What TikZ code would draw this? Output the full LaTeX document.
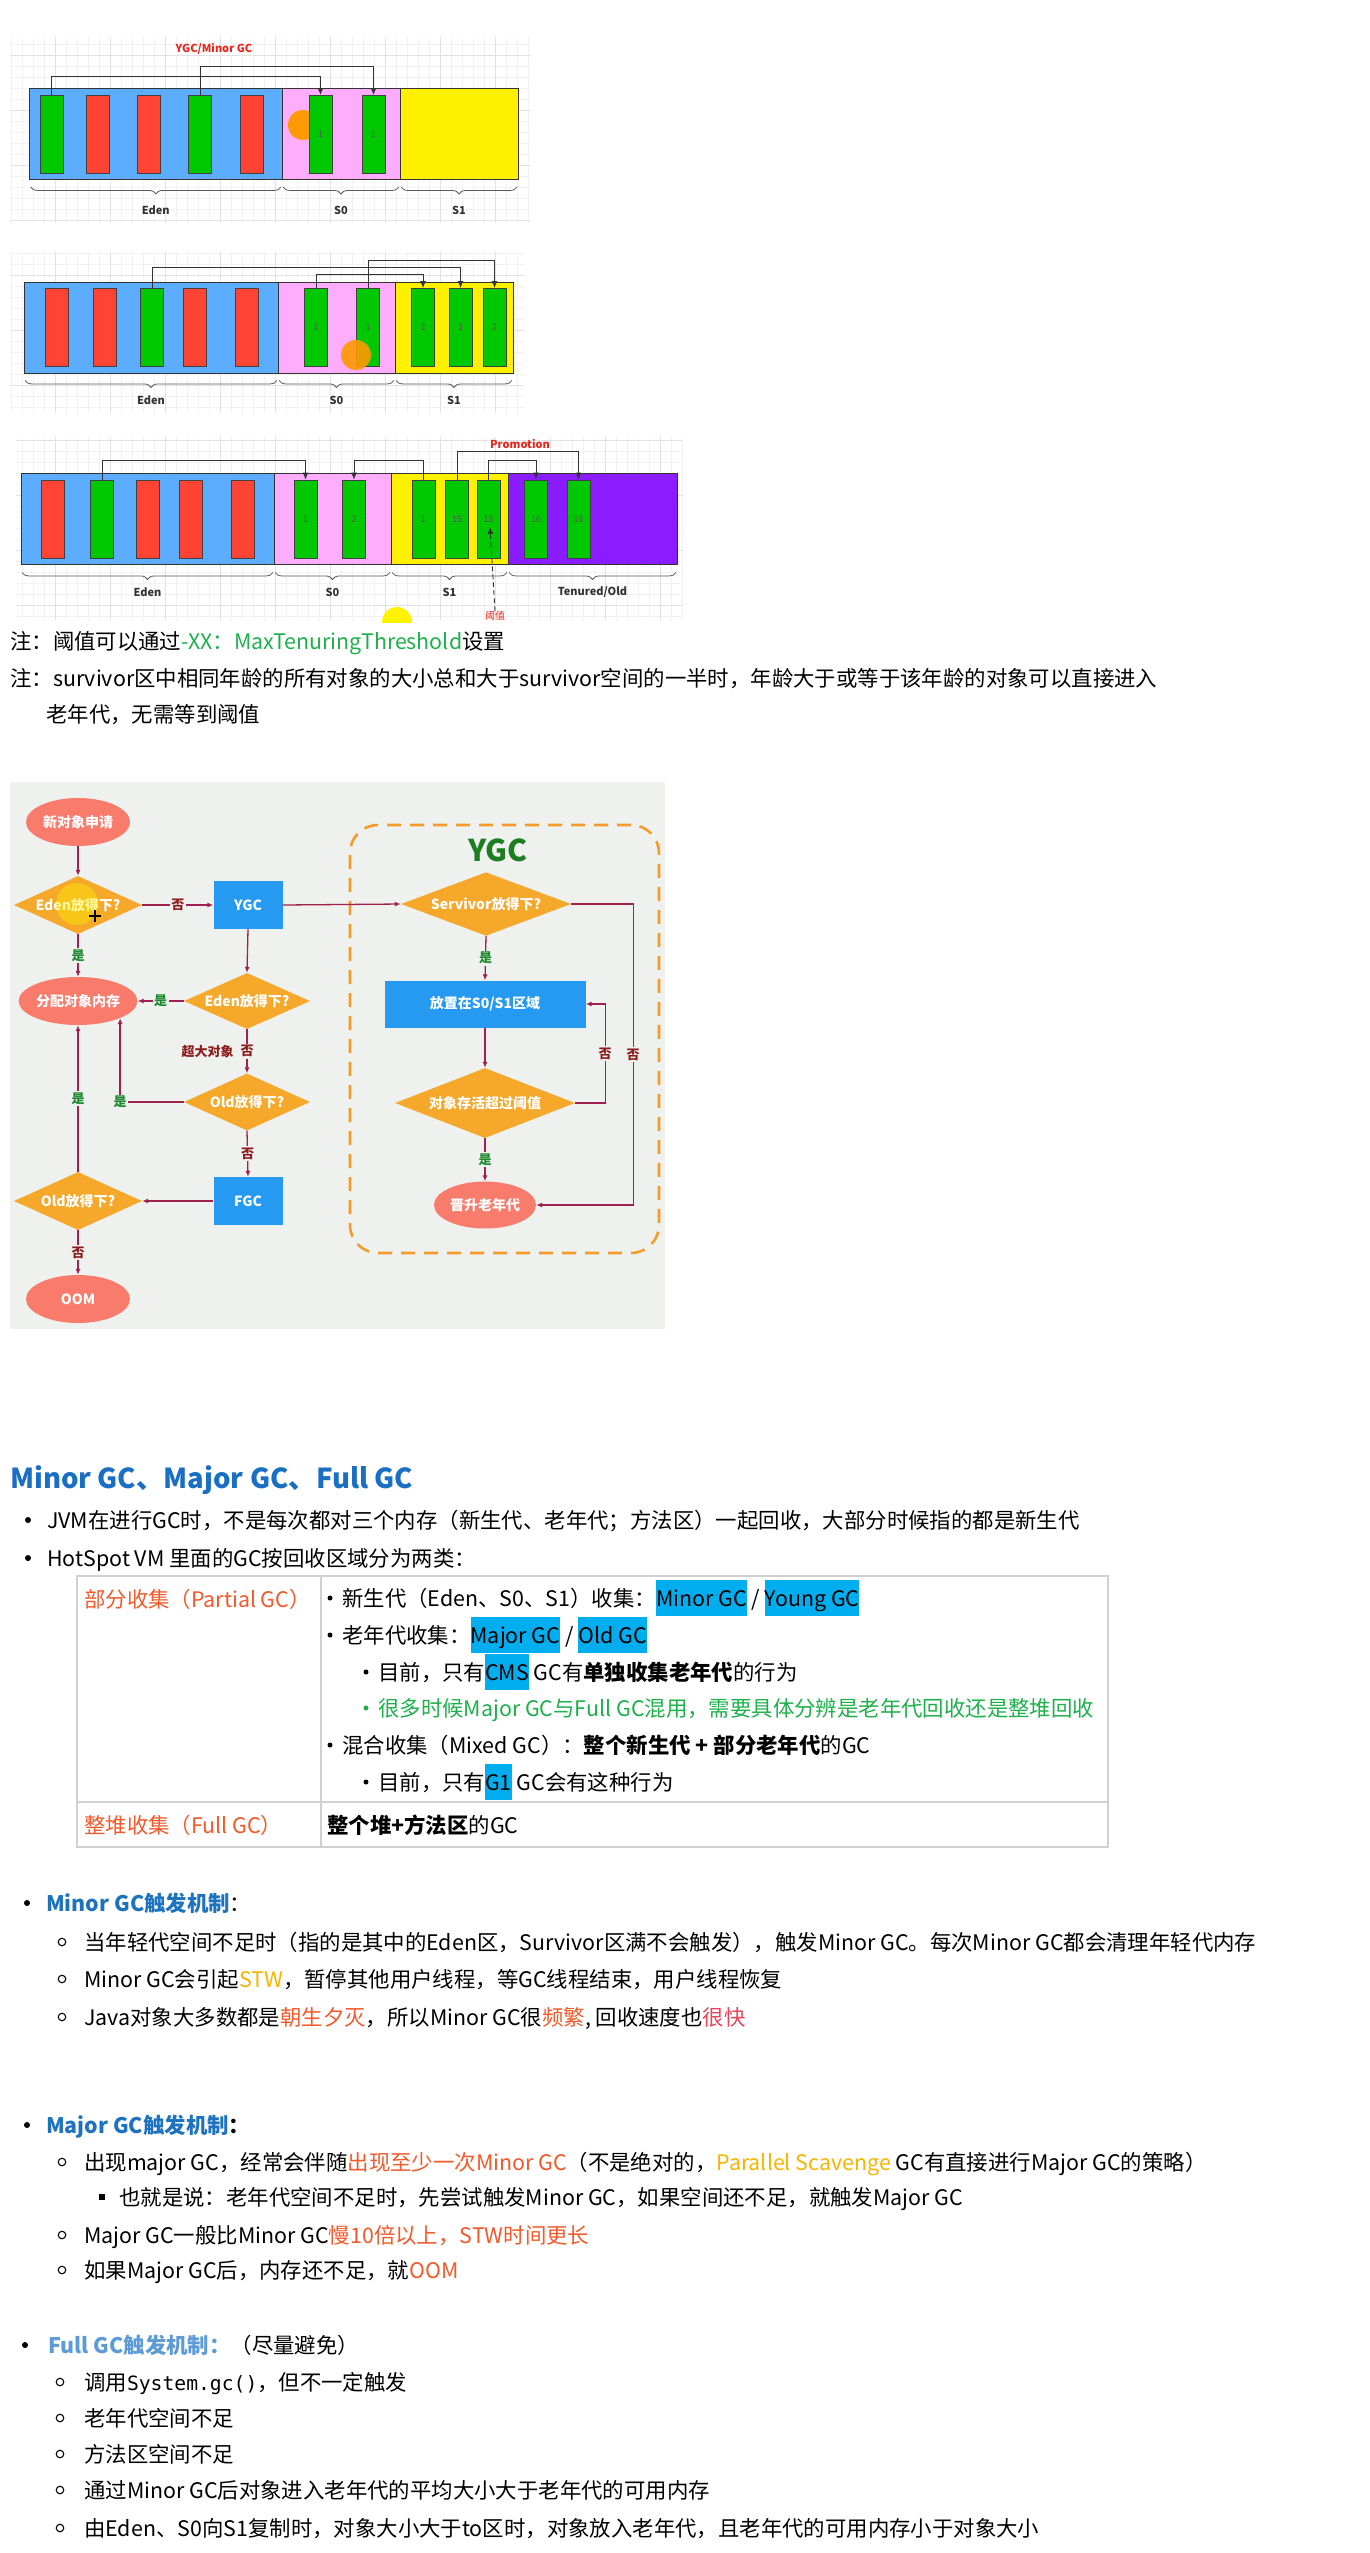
\documentclass[tikz,border=0pt]{standalone}
\usepackage{fontspec}
\setmainfont{Noto Sans CJK SC}
\setmonofont{DejaVu Sans Mono}[Scale=0.92]
\usetikzlibrary{arrows.meta,shapes.geometric,positioning,decorations.pathreplacing,calc}

\definecolor{edenc}{HTML}{5DADFE}
\definecolor{s0c}{HTML}{FDACFE}
\definecolor{s1c}{HTML}{FFF000}
\definecolor{tenc}{HTML}{8A1CFF}
\definecolor{grn}{HTML}{00C800}
\definecolor{rd}{HTML}{FF4433}
\definecolor{gridc}{HTML}{E2E2E2}
\definecolor{gridm}{HTML}{F2F2F2}
\definecolor{redlab}{HTML}{E8261C}
\definecolor{cursorc}{HTML}{FF9900}
\definecolor{fbg}{HTML}{EFF1EF}
\definecolor{fsalmon}{HTML}{F97B6C}
\definecolor{forange}{HTML}{F6A82A}
\definecolor{fblue}{HTML}{2699F1}
\definecolor{fline}{HTML}{A0204F}
\definecolor{fgreen}{HTML}{1E8A2E}
\definecolor{fred}{HTML}{8C1C1C}
\definecolor{ygcorange}{HTML}{F39C2B}
\definecolor{ygcgreen}{HTML}{1D7D22}
\definecolor{hlc}{HTML}{00ADEF}
\definecolor{acc}{HTML}{F25A2B}
\definecolor{grntxt}{HTML}{1FB04C}
\definecolor{stwc}{HTML}{F7B400}
\definecolor{pinkr}{HTML}{E8455B}
\definecolor{blue1}{HTML}{1A6FC4}
\definecolor{blue2}{HTML}{1E73C0}
\definecolor{blue3}{HTML}{5C9BD6}
\definecolor{tline}{HTML}{D0D0D0}

\newcommand\fsz[1]{\fontsize{#1}{#1}\selectfont}
\newcommand\hlb[1]{{\setlength{\fboxsep}{0pt}\colorbox{hlc}{\rule[-0.48em]{0pt}{1.68em}#1}}}

\begin{document}
\begin{tikzpicture}[x=1pt,y=-1pt,
    region/.style={draw=black!80,line width=0.9pt,inner sep=0pt,minimum height=91},
    blk/.style={draw=black!75,line width=0.9pt,inner sep=0pt,minimum width=23,minimum height=78,font=\fsz{9},text=black!65},
    mv/.style={draw=black!80,line width=0.9pt,-{Latex[length=7pt,width=6pt]}},
    brc/.style={draw=black!65,line width=0.8pt,decorate,decoration={brace,mirror,amplitude=7pt}},
    zlab/.style={font=\bfseries\fsz{11},text=black!80,inner sep=0pt},
    rlab/.style={font=\bfseries\fsz{11},text=redlab,inner sep=0pt},
    fell/.style={ellipse,fill=fsalmon,minimum width=104,minimum height=48,inner sep=0pt,text=white,font=\bfseries\fsz{14}},
    fdia/.style={diamond,fill=forange,aspect=2.2,inner sep=0pt,text=white,font=\bfseries\fsz{14}},
    fbox/.style={rectangle,fill=fblue,inner sep=0pt,text=white,font=\bfseries\fsz{14}},
    farr/.style={draw=fline,line width=1.3pt,-{Latex[length=6pt,width=5pt]}},
    fyes/.style={fill=fbg,inner sep=1.5pt,text=fgreen,font=\bfseries\fsz{13}},
    fno/.style={fill=fbg,inner sep=1.5pt,text=fred,font=\bfseries\fsz{13}},
    txt/.style={anchor=west,inner sep=0pt,font=\fsz{21.4},text height=18.8pt,text depth=2.6pt},
    bdot/.style={circle,fill=black,inner sep=0pt,minimum size=6pt},
    tdot/.style={circle,fill=black,inner sep=0pt,minimum size=5pt},
    bring/.style={circle,draw=black,line width=1.1pt,inner sep=0pt,minimum size=7.5pt},
    bsq/.style={rectangle,fill=black,inner sep=0pt,minimum size=5.5pt}
]
    \useasboundingbox (0,0) rectangle (1370,2553);
    \fill[white] (0,0) rectangle (1370,2553);

    % Heap, first minor GC
    \draw[gridm,step=11pt] (10,223) grid (531,37);
    \draw[gridc,step=55pt] (10,223) grid (531,37);
    \node[region,fill=edenc,minimum width=252.4] (edenA) at (155.8,134) {};
    \node[region,fill=s0c,minimum width=118] (s0A) at (341,134) {};
    \node[region,fill=s1c,minimum width=118] (s1A) at (459,134) {};
    \fill[cursorc] (303,125) circle[radius=15pt];
    \foreach \n/\cx/\c in {1/51.5/grn,2/98/rd,3/149/rd,4/200/grn,5/252/rd}
        \node[blk,fill=\c] (a\n) at (\cx,134.5) {};
    \foreach \n/\cx in {6/320.5,7/373.5}
        \node[blk,fill=grn] (a\n) at (\cx,134.5) {1};
    \node[rlab] (ygcA) at (214,49) {YGC/Minor GC};
    \draw[mv] (a1.north) -- ++(0,-19) -| (a6.north);
    \draw[mv] (a4.north) -- ++(0,-29) -| (a7.north);
    \foreach \r/\t in {edenA/Eden,s0A/S0,s1A/S1} {
        \draw[brc] ([xshift=1.5pt,yshift=-7pt]\r.south west) -- ([xshift=-1.5pt,yshift=-7pt]\r.south east);
        \node[zlab] (\r-l) at ($(\r.south)+(0,30)$) {\t};
    }

    % Heap, second minor GC
    \draw[gridm,step=11pt] (10,413) grid (524,252);
    \draw[gridc,step=55pt] (10,413) grid (524,252);
    \node[region,fill=edenc,minimum width=254] (edenB) at (151,327.5) {};
    \node[region,fill=s0c,minimum width=117] (s0B) at (336.5,327.5) {};
    \node[region,fill=s1c,minimum width=118] (s1B) at (454,327.5) {};
    \foreach \n/\cx/\c in {1/57/rd,2/105/rd,3/152/grn,4/195/rd,5/247/rd}
        \node[blk,fill=\c] (b\n) at (\cx,327.5) {};
    \foreach \n/\cx/\t in {6/316/1,7/368/1,8/423/2,9/460.5/1,10/494.5/2}
        \node[blk,fill=grn] (b\n) at (\cx,327.5) {\t};
    \fill[cursorc,opacity=.9] (356,355) circle[radius=15pt];
    \draw[mv] (b3.north) -- ++(0,-21) -| (b9.north);
    \draw[mv] (b6.north) -- ++(0,-14) -| (b8.north);
    \draw[mv] (b7.north) -- ++(0,-28) -| (b10.north);
    \foreach \r/\t in {edenB/Eden,s0B/S0,s1B/S1} {
        \draw[brc] ([xshift=1.5pt,yshift=-7pt]\r.south west) -- ([xshift=-1.5pt,yshift=-7pt]\r.south east);
        \node[zlab] (\r-l) at ($(\r.south)+(0,27)$) {\t};
    }

    % Heap, promotion to old
    \draw[gridm,step=11pt] (16,620) grid (683,437);
    \draw[gridc,step=55pt] (16,620) grid (683,437);
    \node[region,fill=edenc,minimum width=253] (edenC) at (147.5,518.5) {};
    \node[region,fill=s0c,minimum width=117] (s0C) at (332.5,518.5) {};
    \node[region,fill=s1c,minimum width=117] (s1C) at (449.5,518.5) {};
    \node[region,fill=tenc,minimum width=169] (oldC) at (592.5,518.5) {};
    \foreach \n/\cx/\c in {1/53/rd,2/102/grn,3/147.5/rd,4/191/rd,5/243/rd}
        \node[blk,fill=\c] (c\n) at (\cx,519) {};
    \foreach \n/\cx/\t in {6/305.5/1,7/354/2,8/423.5/1,9/457/15,10/488.5/15,11/536/16,12/578.5/16}
        \node[blk,fill=grn] (c\n) at (\cx,519) {\t};
    \node[rlab] (promo) at (520,444) {Promotion};
    \draw[mv] (c2.north) -- ++(0,-19) -| (c6.north);
    \draw[mv] (c8.north) -- ++(0,-19) -| (c7.north);
    \draw[mv] (c9.north) -- ++(0,-28) -| (c12.north);
    \draw[mv] (c10.north) -- ++(0,-19) -| (c11.north);
    \foreach \r/\t in {edenC/Eden,s0C/S0,s1C/S1,oldC/{Tenured/Old}} {
        \draw[brc] ([xshift=1.5pt,yshift=-8pt]\r.south west) -- ([xshift=-1.5pt,yshift=-8pt]\r.south east);
        \node[zlab] (\r-l) at ($(\r.south)+(0,28)$) {\t};
    }
    \node[font=\fsz{10},text=redlab,inner sep=0pt] (thrl) at (495,616) {阈值};
    \draw[mv,dash pattern=on 5pt off 3pt] (thrl.north) -- ([xshift=1.5pt,yshift=-8pt]c10.center);
    \begin{scope}
        \clip (370,600) rectangle (425,622);
        \fill[yellow] (397,622) circle[radius=15pt];
    \end{scope}

    % Notes
    \node[txt] (n1) at (10,641) {注：阈值可以通过{\color{grntxt}-XX：MaxTenuringThreshold}设置};
    \node[txt] (n2) at (10,678) {注：survivor区中相同年龄的所有对象的大小总和大于survivor空间的一半时，年龄大于或等于该年龄的对象可以直接进入};
    \node[txt] (n3) at (46,714) {老年代，无需等到阈值};

    % Flow of object allocation
    \fill[fbg] (10,782) rectangle (665,1329);
    \node[draw=ygcorange,line width=2.6pt,dash pattern=on 14pt off 9pt,rounded corners=28pt,minimum width=309,minimum height=428] (yframe) at (504.5,1039) {};
    \node[font=\bfseries\fsz{30},text=ygcgreen,inner sep=0pt] (ygct) at (498,850) {YGC};
    \node[fell] (fstart) at (78,822) {新对象申请};
    \node[fdia,minimum width=128,minimum height=58] (fd1) at (78,905) {Eden放得下?};
    \node[fbox,minimum width=69,minimum height=48] (fygc) at (248,905) {YGC};
    \node[fell] (falloc) at (78,1001) {分配对象内存};
    \node[fdia,minimum width=126,minimum height=56] (fd2) at (247,1001) {Eden放得下?};
    \node[fdia,minimum width=126,minimum height=57] (fd3) at (247,1102) {Old放得下?};
    \node[fbox,minimum width=69,minimum height=48] (ffgc) at (248,1201) {FGC};
    \node[fdia,minimum width=128,minimum height=58] (fd4) at (78,1201) {Old放得下?};
    \node[fell] (foom) at (78,1299) {OOM};
    \node[fdia,minimum width=170,minimum height=60] (fd5) at (486,904) {Servivor放得下?};
    \node[fbox,minimum width=201,minimum height=47] (fs01) at (485,1004) {放置在S0/S1区域};
    \node[fdia,minimum width=180,minimum height=70] (fd6) at (485,1103) {对象存活超过阈值};
    \node[fell,minimum width=102,minimum height=47] (fold) at (485,1205) {晋升老年代};
    \fill[yellow,opacity=.4] (77,904) circle[radius=21pt];
    \draw[line width=1.5pt] (89,916) -- (101,916) (95,910) -- (95,922);

    \draw[farr] (fstart) -- (fd1);
    \draw[farr] (fd1.east) -- node[fno] (no1) {否} (fygc.west);
    \draw[farr] (fygc.east) -- (fd5.west);
    \draw[farr] (fd1.south) -- node[fyes] (yes1) {是} (falloc.north);
    \draw[farr] (fygc.south) -- (fd2.north);
    \draw[farr] (fd2.west) -- node[fyes] (yes2) {是} (falloc.east);
    \draw[farr] (fd2.south) -- node[fno] (no2) {否} (fd3.north);
    \node[fno,left=3pt of no2] (big) {超大对象};
    \draw[farr] (fd3.west) -| (falloc.south east);
    \node[fyes] (yes3) at (falloc.south east |- fd3.west) {是};
    \draw[farr] (fd3.south) -- node[fno] (no3) {否} (ffgc.north);
    \draw[farr] (ffgc.west) -- (fd4.east);
    \draw[farr] (fd4.north) -- node[fyes] (yes4) {是} (falloc.south);
    \draw[farr] (fd4.south) -- node[fno] (no4) {否} (foom.north);
    \draw[farr] (fd5.south) -- node[fyes] (yes5) {是} (fs01.north);
    \draw[farr] (fs01.south) -- (fd6.north);
    \draw[farr] (fd6.east) -- ++(30,0) |- node[fno,pos=0.25] (no5) {否} (fs01.east);
    \draw[farr] (fd6.south) -- node[fyes] (yes6) {是} (fold.north);
    \draw[farr] (fd5.east) -- ++(62,0) |- node[fno,pos=0.25] (no6) {否} (fold.east);

    % Minor GC, Major GC, Full GC
    \node[txt,font=\bfseries\fsz{27.5},text height=24.2pt,text depth=3.3pt,text=blue1] (h1) at (10,1478) {Minor GC、Major GC、Full GC};
    \node[bdot] (d1) at (28,1520) {};
    \node[txt] (l1) at (47,1520) {JVM在进行GC时，不是每次都对三个内存（新生代、老年代；方法区）一起回收，大部分时候指的都是新生代};
    \node[bdot] (d2) at (28,1558) {};
    \node[txt] (l2) at (47,1558) {HotSpot VM 里面的GC按回收区域分为两类：};

    % table of collection kinds
    \draw[tline,line width=1.3pt] (77,1576) rectangle (1108,1847);
    \draw[tline,line width=1.3pt] (77,1802) -- (1108,1802);
    \draw[tline,line width=1.3pt] (321,1576) -- (321,1847);
    \node[txt,text=acc] (k1) at (84,1599) {部分收集（Partial GC）};
    \node[txt,text=acc] (k2) at (84,1825) {整堆收集（Full GC）};
    \node[tdot] (e1) at (330,1598) {};
    \node[txt] (r1) at (342,1598) {新生代（Eden、S0、S1）收集：\hlb{Minor GC} / \hlb{Young GC}};
    \node[tdot] (e2) at (330,1635) {};
    \node[txt] (r2) at (342,1635) {老年代收集：\hlb{Major GC} / \hlb{Old GC}};
    \node[tdot] (e3) at (366,1672) {};
    \node[txt] (r3) at (378,1672) {目前，只有\hlb{CMS} GC有\textbf{单独收集老年代}的行为};
    \node[tdot,fill=grntxt] (e4) at (366,1708) {};
    \node[txt,text=grntxt] (r4) at (378,1708) {很多时候Major GC与Full GC混用，需要具体分辨是老年代回收还是整堆回收};
    \node[tdot] (e5) at (330,1745) {};
    \node[txt] (r5) at (342,1745) {混合收集（Mixed GC）：\textbf{整个新生代 + 部分老年代}的GC};
    \node[tdot] (e6) at (366,1782) {};
    \node[txt] (r6) at (378,1782) {目前，只有\hlb{G1} GC会有这种行为};
    \node[txt] (r7) at (327,1825) {\textbf{整个堆+方法区}的GC};

    % Minor GC trigger
    \node[bdot] (d3) at (27,1903) {};
    \node[txt] (m0) at (46,1903) {{\color{blue2}\textbf{Minor GC触发机制}}：};
    \node[bring] (o1) at (62,1942) {};
    \node[txt] (m1) at (84,1942) {当年轻代空间不足时（指的是其中的Eden区，Survivor区满不会触发），触发Minor GC。每次Minor GC都会清理年轻代内存};
    \node[bring] (o2) at (62,1979) {};
    \node[txt] (m2) at (84,1979) {Minor GC会引起{\color{stwc}STW}，暂停其他用户线程，等GC线程结束，用户线程恢复};
    \node[bring] (o3) at (62,2017) {};
    \node[txt] (m3) at (84,2017) {Java对象大多数都是{\color{acc}朝生夕灭}，所以Minor GC很{\color{acc}频繁}, 回收速度也{\color{pinkr}很快}};

    % Major GC trigger
    \node[bdot] (d4) at (27,2125) {};
    \node[txt] (j0) at (46,2125) {{\color{blue2}\textbf{Major GC触发机制}}\textbf{：}};
    \node[bring] (o4) at (62,2162) {};
    \node[txt] (j1) at (84,2162) {出现major GC，经常会伴随{\color{acc}出现至少一次Minor GC}（不是绝对的，{\color{stwc}Parallel Scavenge} GC有直接进行Major GC的策略）};
    \node[bsq] (q1) at (102,2197) {};
    \node[txt] (j2) at (119,2197) {也就是说：老年代空间不足时，先尝试触发Minor GC，如果空间还不足，就触发Major GC};
    \node[bring] (o5) at (62,2235) {};
    \node[txt] (j3) at (84,2235) {Major GC一般比Minor GC{\color{acc}慢10倍以上，STW时间更长}};
    \node[bring] (o6) at (62,2270) {};
    \node[txt] (j4) at (84,2270) {如果Major GC后，内存还不足，就{\color{acc}OOM}};

    % Full GC trigger
    \node[bdot] (d5) at (25,2345) {};
    \node[txt] (f0) at (48,2345) {{\color{blue3}\textbf{Full GC触发机制：}}（尽量避免）};
    \foreach \i/\y/\t in {1/2382/{调用\texttt{System.gc()}，但不一定触发},
                          2/2418/{老年代空间不足},
                          3/2454/{方法区空间不足},
                          4/2490/{通过Minor GC后对象进入老年代的平均大小大于老年代的可用内存},
                          5/2528/{由Eden、S0向S1复制时，对象大小大于to区时，对象放入老年代，且老年代的可用内存小于对象大小}} {
        \node[bring] (p\i) at (60,\y) {};
        \node[txt] (f\i) at (84,\y) {\t};
    }
\end{tikzpicture}
\end{document}
